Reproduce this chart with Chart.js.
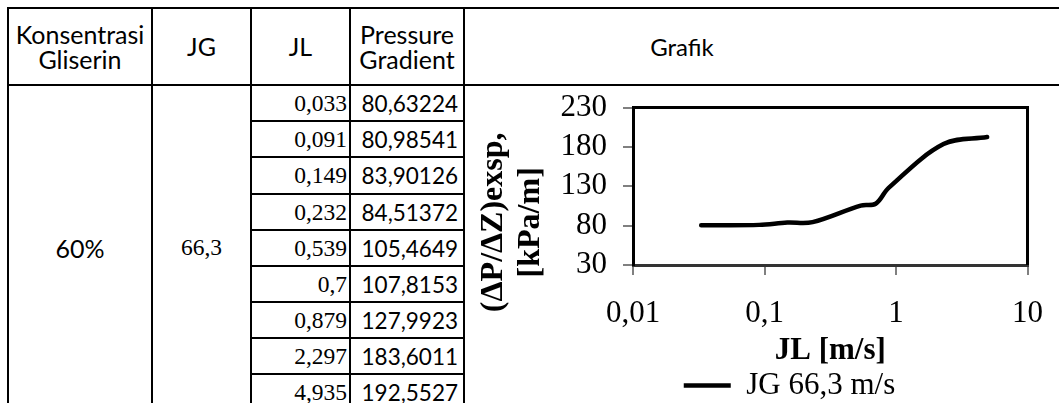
<!DOCTYPE html>
<html>
<head>
<meta charset="utf-8">
<script src="https://cdn.jsdelivr.net/npm/chart.js@4.4.1/dist/chart.umd.min.js"></script>
<style>
  html, body { margin: 0; padding: 0; background: #fff; width: 1059px; height: 403px; overflow: hidden; }
  table { position: absolute; left: 7px; top: 7px; border-collapse: collapse; table-layout: fixed;
          width: 1093px; font-family: Lato, "Open Sans", sans-serif; color: #000; }
  td { border: 2px solid #000; padding: 0; overflow: hidden; white-space: nowrap; }
  tr.hd td { height: 75px; font-size: 25px; line-height: 25px; text-align: center; }
  tr.hd td.g { font-size: 24px; padding-right: 202px; border-right: none; }
  td.mid { text-align: center; font-size: 25px; }
  td.serif { font-family: "Liberation Serif", "Times New Roman", serif; font-size: 23.5px; }
  td.jl { text-align: right; padding-right: 2px; font-family: "Liberation Serif", "Times New Roman", serif; font-size: 23.5px; }
  td.pg { text-align: right; padding-right: 5px; font-size: 22.5px; }
  td.chartcell { border-right: none; }
  #chartWrap { position: absolute; left: 466px; top: 73px; width: 597px; height: 338px; }
</style>
</head>
<body>
<table id="tbl">
  <colgroup>
    <col style="width:144px"><col style="width:99px"><col style="width:99px"><col style="width:114px"><col style="width:637px">
  </colgroup>
  <tbody id="tbody">
    <tr class="hd">
      <td>Konsentrasi<br>Gliserin</td>
      <td>JG</td>
      <td>JL</td>
      <td>Pressure<br>Gradient</td>
      <td class="g">Grafik</td>
    </tr>
  </tbody>
</table>
<div id="chartWrap"><canvas id="chart" width="597" height="338"></canvas></div>

<script>
const JL_VALUES = [0.033, 0.091, 0.149, 0.232, 0.539, 0.7, 0.879, 2.297, 4.935];
const PRESSURE_GRADIENT = [80.63224, 80.98541, 83.90126, 84.51372, 105.4649, 107.8153, 127.9923, 183.6011, 192.5527];
const X_TICKS = [0.01, 0.1, 1, 10];
const Y_TICKS = [30, 80, 130, 180, 230];
const KONSENTRASI = '60%';
const JG_VALUE = '66,3';
const SERIES_LABEL = 'JG 66,3 m/s';
const X_TITLE = 'JL [m/s]';
const Y_TITLE = ['(ΔP/ΔZ)exsp,', '[kPa/m]'];

const ROW_HEIGHTS = [36, 36, 37, 36, 36, 36, 36, 36, 36];
const SERIF = '"Liberation Serif", "Times New Roman", serif';

const comma = v => String(v).replace('.', ',');

// table body
const tbody = document.getElementById('tbody');
JL_VALUES.forEach((jl, i) => {
  const tr = document.createElement('tr');
  tr.style.height = ROW_HEIGHTS[i] + 'px';
  let html = '';
  if (i === 0) {
    html += `<td rowspan="${JL_VALUES.length}" class="mid">${KONSENTRASI}</td>` +
            `<td rowspan="${JL_VALUES.length}" class="mid serif">${JG_VALUE}</td>`;
  }
  html += `<td class="jl">${comma(jl)}</td><td class="pg">${comma(PRESSURE_GRADIENT[i])}</td>`;
  if (i === 0) html += `<td rowspan="${JL_VALUES.length}" class="chartcell"></td>`;
  tr.innerHTML = html;
  tbody.appendChild(tr);
});

// top and right edge of the plot area
const frame = {
  id: 'frame',
  afterDraw(chart) {
    const { ctx, chartArea: a } = chart;
    ctx.save();
    ctx.strokeStyle = '#000';
    ctx.lineWidth = 3;
    ctx.beginPath();
    ctx.moveTo(a.left, a.top);
    ctx.lineTo(a.right, a.top);
    ctx.lineTo(a.right, a.bottom);
    ctx.stroke();
    ctx.restore();
  }
};

// Excel puts the y title a bit below the middle of the plot
const yTitle = {
  id: 'yTitle',
  afterDraw(chart) {
    const { ctx, chartArea: a } = chart;
    ctx.save();
    ctx.font = 'bold 32px ' + SERIF;
    ctx.fillStyle = '#000';
    ctx.textAlign = 'center';
    ctx.textBaseline = 'middle';
    ctx.translate(28, (a.top + a.bottom) / 2 + 36);
    ctx.rotate(-Math.PI / 2);
    Y_TITLE.forEach((t, i) => ctx.fillText(t, 0, i * 37));
    ctx.restore();
  }
};

// legend sits a little right of the canvas centre
const legendShift = {
  id: 'legendShift',
  afterLayout(chart) {
    chart.legend.left += 25;
    chart.legend.right += 25;
  }
};

const tickFont = { family: SERIF, size: 31, lineHeight: 1.2 };

new Chart(document.getElementById('chart'), {
  type: 'scatter',
  data: {
    datasets: [{
      label: SERIES_LABEL,
      data: JL_VALUES.map((x, i) => ({ x, y: PRESSURE_GRADIENT[i] })),
      showLine: true,
      borderColor: '#000',
      backgroundColor: '#000',
      borderWidth: 4.5,
      borderCapStyle: 'round',
      pointRadius: 0,
      pointStyle: 'line',
      tension: 0.35
    }]
  },
  options: {
    responsive: false,
    animation: false,
    devicePixelRatio: 1,
    layout: { padding: 0 },
    plugins: {
      legend: {
        position: 'bottom',
        labels: {
          color: '#000',
          font: { family: SERIF, size: 31 },
          usePointStyle: true,
          pointStyleWidth: 47,
          padding: 4
        }
      },
      tooltip: { enabled: false }
    },
    scales: {
      x: {
        type: 'logarithmic',
        min: 0.01,
        max: 10,
        afterBuildTicks: s => { s.ticks = X_TICKS.map(v => ({ value: v })); },
        afterFit: s => { s.height = 101; },
        ticks: { color: '#000', font: tickFont, padding: 20, maxRotation: 0, autoSkip: false, callback: v => comma(v) },
        grid: { drawOnChartArea: false, color: '#808080', lineWidth: 2, tickLength: 10 },
        border: { color: '#333', width: 3 },
        title: { display: true, text: X_TITLE, color: '#000', font: { family: SERIF, size: 31, weight: 'bold', lineHeight: 1 }, padding: 0 }
      },
      y: {
        min: 30,
        max: 230,
        afterBuildTicks: s => { s.ticks = Y_TICKS.map(v => ({ value: v })); },
        afterFit: s => { s.width = 167; },
        ticks: { color: '#000', font: tickFont, padding: 16, autoSkip: false },
        grid: { drawOnChartArea: false, color: '#808080', lineWidth: 2, tickLength: 10 },
        border: { color: '#000', width: 3 },
        title: { display: false }
      }
    }
  },
  plugins: [frame, yTitle, legendShift]
});
</script>
</body>
</html>
